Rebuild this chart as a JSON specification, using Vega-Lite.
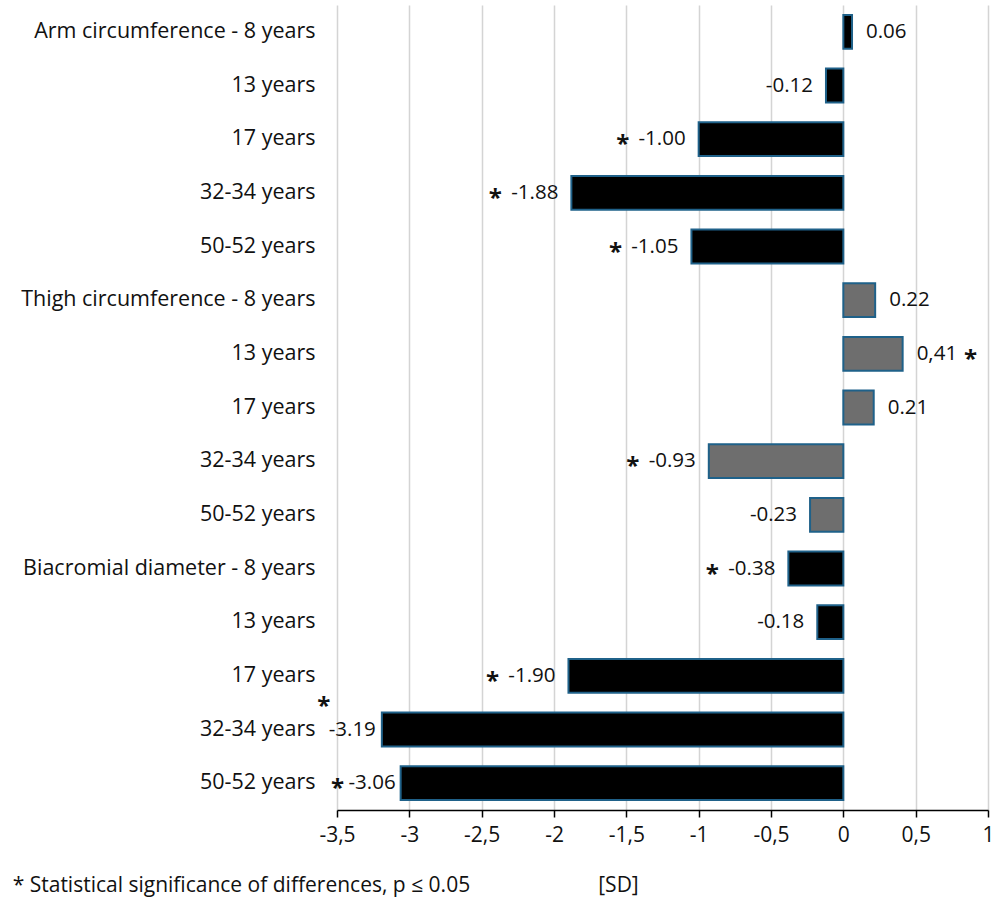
{
  "$schema": "https://vega.github.io/schema/vega-lite/v6.json",
  "width": 651,
  "height": 805,
  "autosize": "none",
  "padding": {"left": 337, "top": 5, "right": 7, "bottom": 94},
  "config": {
    "font": "Open Sans",
    "view": {"stroke": null},
    "text": {"font": "Open Sans", "fontSize": 20.5, "color": "#111111"}
  },
  "title": {
    "text": "* Statistical significance of differences, p ≤ 0.05",
    "orient": "bottom",
    "anchor": "start",
    "frame": "bounds",
    "fontSize": 21,
    "fontWeight": "normal",
    "font": "Open Sans",
    "color": "#111111",
    "offset": -20,
    "dx": -8
  },
  "data": {
    "values": [
      {"key": "Arm circumference - 8 years", "value": 0.06, "text": "0.06", "sig": false, "kind": "solid", "spec": "n"},
      {"key": "13 years|a", "value": -0.12, "text": "-0.12", "sig": false, "kind": "solid", "spec": "n"},
      {"key": "17 years|a", "value": -1.0, "text": "-1.00", "sig": true, "kind": "solid", "spec": "n"},
      {"key": "32-34 years|a", "value": -1.88, "text": "-1.88", "sig": true, "kind": "solid", "spec": "n"},
      {"key": "50-52 years|a", "value": -1.05, "text": "-1.05", "sig": true, "kind": "solid", "spec": "n"},
      {"key": "Thigh circumference - 8 years", "value": 0.22, "text": "0.22", "sig": false, "kind": "pattern", "spec": "n"},
      {"key": "13 years|t", "value": 0.41, "text": "0,41", "sig": true, "kind": "pattern", "spec": "n"},
      {"key": "17 years|t", "value": 0.21, "text": "0.21", "sig": false, "kind": "pattern", "spec": "n"},
      {"key": "32-34 years|t", "value": -0.93, "text": "-0.93", "sig": true, "kind": "pattern", "spec": "n"},
      {"key": "50-52 years|t", "value": -0.23, "text": "-0.23", "sig": false, "kind": "pattern", "spec": "n"},
      {"key": "Biacromial diameter - 8 years", "value": -0.38, "text": "-0.38", "sig": true, "kind": "solid", "spec": "n"},
      {"key": "13 years|b", "value": -0.18, "text": "-0.18", "sig": false, "kind": "solid", "spec": "n"},
      {"key": "17 years|b", "value": -1.9, "text": "-1.90", "sig": true, "kind": "solid", "spec": "n"},
      {"key": "32-34 years|b", "value": -3.19, "text": "-3.19", "sig": true, "kind": "solid", "spec": "above"},
      {"key": "50-52 years|b", "value": -3.06, "text": "-3.06", "sig": true, "kind": "solid", "spec": "tight"}
    ]
  },
  "encoding": {
    "y": {
      "field": "key",
      "type": "nominal",
      "sort": null,
      "scale": {"paddingInner": 0.37, "paddingOuter": 0.185},
      "axis": {
        "title": null,
        "domain": false,
        "ticks": false,
        "grid": false,
        "labelExpr": "split(datum.value, '|')[0]",
        "labelFontSize": 21.5,
        "labelFont": "Open Sans",
        "labelColor": "#111111",
        "labelPadding": 22,
        "labelLimit": 400
      }
    },
    "x": {
      "field": "value",
      "type": "quantitative",
      "scale": {"domain": [-3.5, 1], "nice": false, "zero": false},
      "axis": {
        "values": [-3.5, -3, -2.5, -2, -1.5, -1, -0.5, 0, 0.5, 1],
        "labelExpr": "replace(toString(datum.value), '.', ',')",
        "labelFontSize": 21,
        "labelFont": "Open Sans",
        "labelColor": "#111111",
        "labelPadding": 7,
        "labelFlush": false,
        "grid": true,
        "gridColor": "#d4d4d4",
        "gridWidth": 1.5,
        "domainColor": "#000000",
        "domainWidth": 1.5,
        "tickColor": "#000000",
        "tickWidth": 1.5,
        "tickSize": 7,
        "title": "[SD]",
        "titleFont": "Open Sans",
        "titleFontSize": 21,
        "titleFontWeight": "normal",
        "titleColor": "#111111",
        "titleX": 281,
        "titleY": 75,
        "titleBaseline": "middle",
        "titleAlign": "center"
      }
    }
  },
  "layer": [
    {
      "mark": {"type": "bar", "stroke": "#1f6189", "strokeWidth": 2},
      "encoding": {
        "color": {
          "field": "kind",
          "type": "nominal",
          "scale": {"domain": ["solid", "pattern"], "range": ["#000000", "#6e6e6e"]},
          "legend": null
        }
      }
    },
    {
      "transform": [{"filter": "datum.value > 0"}],
      "mark": {"type": "text", "align": "left", "baseline": "middle", "dx": 14},
      "encoding": {"text": {"field": "text"}}
    },
    {
      "transform": [{"filter": "datum.value < 0 && datum.spec == 'n'"}],
      "mark": {"type": "text", "align": "right", "baseline": "middle", "dx": -13},
      "encoding": {"text": {"field": "text"}}
    },
    {
      "transform": [{"filter": "datum.spec == 'above'"}],
      "mark": {"type": "text", "align": "right", "baseline": "middle", "dx": -6},
      "encoding": {"text": {"field": "text"}}
    },
    {
      "transform": [{"filter": "datum.spec == 'tight'"}],
      "mark": {"type": "text", "align": "right", "baseline": "middle", "dx": -5},
      "encoding": {"text": {"field": "text"}}
    },
    {
      "transform": [{"filter": "datum.sig && datum.value > 0"}],
      "mark": {"type": "text", "text": "*", "align": "center", "baseline": "middle", "dx": 68, "dy": 6, "fontSize": 24, "fontWeight": "bold"},
      "encoding": {}
    },
    {
      "transform": [{"filter": "datum.sig && datum.value < 0 && datum.spec == 'n'"}],
      "mark": {"type": "text", "text": "*", "align": "center", "baseline": "middle", "dx": -76, "dy": 6, "fontSize": 24, "fontWeight": "bold"},
      "encoding": {}
    },
    {
      "transform": [{"filter": "datum.spec == 'above'"}],
      "mark": {"type": "text", "text": "*", "align": "center", "baseline": "middle", "dx": -58, "dy": -23, "fontSize": 24, "fontWeight": "bold"},
      "encoding": {}
    },
    {
      "transform": [{"filter": "datum.spec == 'tight'"}],
      "mark": {"type": "text", "text": "*", "align": "center", "baseline": "middle", "dx": -63, "dy": 6, "fontSize": 24, "fontWeight": "bold"},
      "encoding": {}
    }
  ]
}
